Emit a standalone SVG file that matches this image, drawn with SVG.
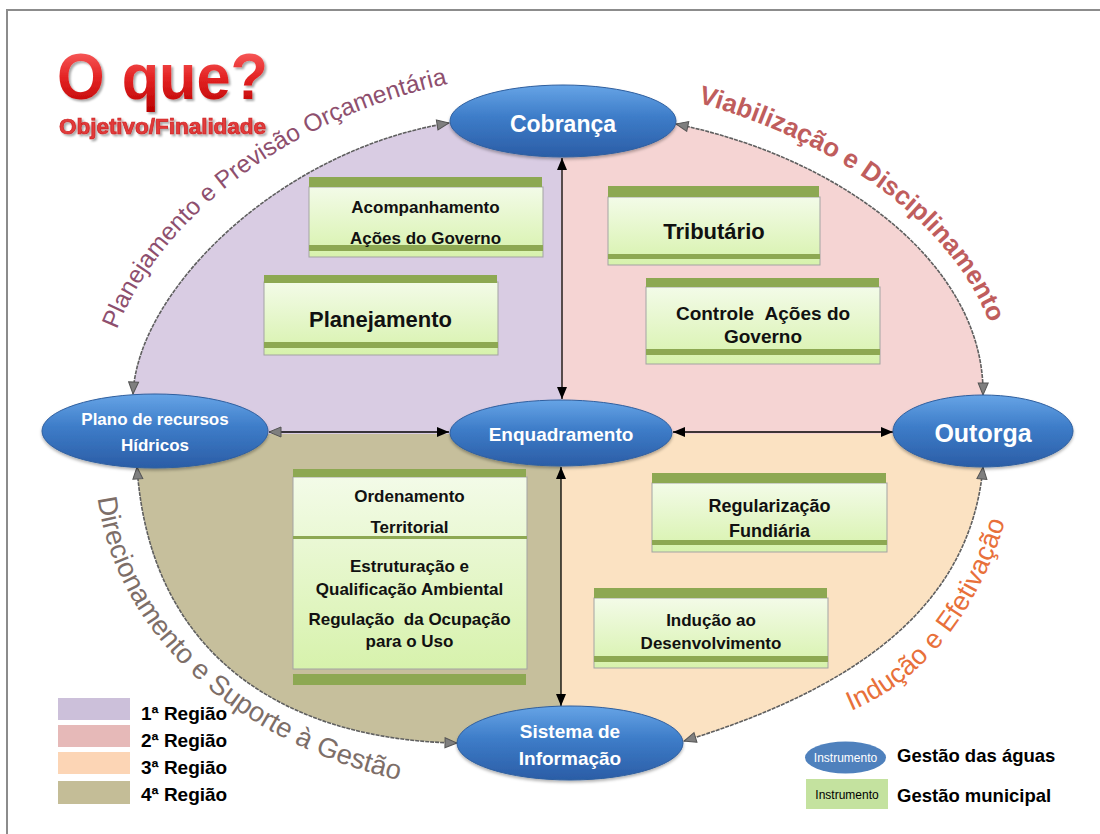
<svg xmlns="http://www.w3.org/2000/svg" width="1100" height="834" viewBox="0 0 1100 834">
<defs>
<style>
.bar{fill:#8da852}
.body{fill:url(#gb);stroke:#a3a3a3;stroke-width:1}
.bt{font-family:"Liberation Sans",Arial,sans-serif;font-weight:bold;fill:#111;text-anchor:middle}
.el{fill:url(#eb);stroke:#2f5f9f;stroke-width:1;filter:url(#sh)}
.et{font-family:"Liberation Sans",Arial,sans-serif;font-weight:bold;fill:#fff;text-anchor:middle}
.curve{fill:none;stroke:#5f5f5f;stroke-width:1.6;stroke-dasharray:4 1;marker-start:url(#ga);marker-end:url(#ga)}
.line{fill:none;stroke:#000;stroke-width:1.3}
.lg{font-family:"Liberation Sans",Arial,sans-serif;font-weight:bold;fill:#000}
.wa{font-family:"Liberation Sans",Arial,sans-serif}
</style>
<linearGradient id="gb" x1="0" y1="0" x2="0" y2="1">
<stop offset="0" stop-color="#f3fbe8"/>
<stop offset="1" stop-color="#d7f2ac"/>
</linearGradient>
<linearGradient id="eb" x1="0" y1="0" x2="0" y2="1">
<stop offset="0" stop-color="#66a4e6"/>
<stop offset="0.45" stop-color="#3d7cc8"/>
<stop offset="1" stop-color="#2b5da6"/>
</linearGradient>
<linearGradient id="red" x1="0" y1="0" x2="0" y2="1">
<stop offset="0" stop-color="#ff7070"/>
<stop offset="0.5" stop-color="#e42424"/>
<stop offset="1" stop-color="#b80000"/>
</linearGradient>
<filter id="sh" x="-10%" y="-10%" width="120%" height="130%">
<feDropShadow dx="0" dy="2" stdDeviation="1.5" flood-color="#000" flood-opacity="0.3"/>
</filter>
<filter id="tsh" x="-5%" y="-10%" width="115%" height="130%">
<feDropShadow dx="2" dy="2" stdDeviation="1.2" flood-color="#000" flood-opacity="0.35"/>
</filter>
<marker id="ah" viewBox="0 0 12 10" refX="12" refY="5" markerWidth="12" markerHeight="10" markerUnits="userSpaceOnUse" orient="auto-start-reverse">
<path d="M0,0 L12,5 L0,10 z" fill="#000"/>
</marker>
<marker id="ahg" viewBox="-1 -1 14 12" refX="12" refY="5" markerWidth="14" markerHeight="12" markerUnits="userSpaceOnUse" orient="auto-start-reverse">
<path d="M0,0 L12,5 L0,10 z" fill="#7f7f7f" stroke="#555" stroke-width="1"/>
</marker>
<marker id="ga" viewBox="-1 -1 14 12" refX="12" refY="5" markerWidth="14" markerHeight="12" markerUnits="userSpaceOnUse" orient="auto-start-reverse">
<path d="M0,0 L12,5 L0,10 z" fill="#7f7f7f" stroke="#555" stroke-width="1"/>
</marker>
<path id="tp1" d="M 106,368 C 126,255 260,115 478,78"/>
<path id="tp2" d="M 688,100 C 840,140 965,230 997,345"/>
<path id="tp3" d="M 838,716 C 913,690 983,620 1013,492"/>
<path id="tp4" d="M 96,480 C 106,640 256,760 440,788"/>
</defs>

<rect x="0" y="0" width="1100" height="834" fill="#fff"/>
<rect x="7" y="10" width="1200" height="900" fill="#fff" stroke="#8c8c8c" stroke-width="2"/>

<g id="regions">
<path d="M561,434 L133,434 L133,394 C138,290 280,150 449,123 L561,123 Z" fill="#d9cce3"/>
<path d="M561,434 L561,123 L676,124 C850,160 985,270 983,395 L983,434 Z" fill="#f5d4d3"/>
<path d="M561,434 L983,434 L983,467 C970,610 850,690 684,741 L561,741 Z" fill="#fbe2c2"/>
<path d="M561,434 L561,743 L457,743 C290,740 150,660 137,467 L137,434 Z" fill="#c6bf9c"/>
</g>

<g id="connectors">
<path class="curve" d="M 133,394 C 138,290 280,150 449,123"/>
<path class="curve" d="M 676,124 C 850,160 985,270 983,395"/>
<path class="curve" d="M 983,467 C 970,610 850,690 684,741"/>
<path class="curve" d="M 137,467 C 150,660 290,740 457,743"/>
<line class="line" x1="562" y1="158" x2="562" y2="399" marker-start="url(#ah)" marker-end="url(#ah)"/>
<line class="line" x1="561" y1="467" x2="561" y2="706" marker-start="url(#ah)" marker-end="url(#ah)"/>
<line class="line" x1="269" y1="432" x2="449" y2="432" stroke="#333" marker-start="url(#ahg)" marker-end="url(#ah)"/>
<line class="line" x1="673" y1="432" x2="893" y2="432" marker-start="url(#ah)" marker-end="url(#ah)"/>
</g>

<g id="curved-labels">
<text class="wa" font-size="24.5" fill="#8e4f6e"><textPath href="#tp1" startOffset="40">Planejamento e Previsão Orçamentária</textPath></text>
<text class="wa" font-size="26" font-weight="bold" fill="#bf5d5d"><textPath href="#tp2" startOffset="10">Viabilização e Disciplinamento</textPath></text>
<text class="wa" font-size="27" fill="#e8703a"><textPath href="#tp3" startOffset="14">Indução e Efetivação</textPath></text>
<text class="wa" font-size="27.5" fill="#7d6e68"><textPath href="#tp4" startOffset="18">Direcionamento e Suporte à Gestão</textPath></text>
</g>

<g id="box-acompanhamento">
<rect class="body" x="309" y="187" width="234" height="70"/>
<rect class="bar" x="309" y="177" width="233" height="10"/>
<rect class="bar" x="309" y="245" width="234" height="6"/>
<text class="bt" x="425.5" y="213" font-size="17">Acompanhamento</text>
<text class="bt" x="425.5" y="244" font-size="17">Ações do Governo</text>
</g>

<g id="box-planejamento">
<rect class="body" x="264" y="282" width="234" height="73"/>
<rect class="bar" x="264" y="275" width="233" height="8"/>
<rect class="bar" x="264" y="342" width="234" height="6"/>
<text class="bt" x="380.5" y="327" font-size="22">Planejamento</text>
</g>

<g id="box-tributario">
<rect class="body" x="608" y="197" width="212" height="68"/>
<rect class="bar" x="608" y="186" width="211" height="11"/>
<rect class="bar" x="608" y="254" width="212" height="5"/>
<text class="bt" x="714" y="239" font-size="22">Tributário</text>
</g>

<g id="box-controle">
<rect class="body" x="646" y="287" width="234" height="77"/>
<rect class="bar" x="646" y="278" width="233" height="9"/>
<rect class="bar" x="646" y="349" width="234" height="6"/>
<text class="bt" x="763" y="320" font-size="19">Controle &#160;Ações do</text>
<text class="bt" x="763" y="343" font-size="19">Governo</text>
</g>

<g id="box-regularizacao">
<rect class="body" x="652" y="483" width="235" height="69"/>
<rect class="bar" x="652" y="473" width="234" height="10"/>
<rect class="bar" x="652" y="540" width="235" height="5"/>
<text class="bt" x="769.5" y="512" font-size="18">Regularização</text>
<text class="bt" x="769.5" y="537" font-size="18">Fundiária</text>
</g>

<g id="box-inducao">
<rect class="body" x="594" y="598" width="234" height="70"/>
<rect class="bar" x="594" y="588" width="233" height="10"/>
<rect class="bar" x="594" y="656" width="234" height="6"/>
<text class="bt" x="711" y="626" font-size="17">Indução ao</text>
<text class="bt" x="711" y="649" font-size="17">Desenvolvimento</text>
</g>

<g id="box-ordenamento">
<rect class="body" x="293" y="477" width="234" height="192"/>
<rect class="bar" x="293" y="469" width="233" height="8"/>
<rect class="bar" x="293" y="536" width="234" height="3"/>
<rect class="bar" x="293" y="674" width="233" height="11"/>
<text class="bt" x="409.5" y="502" font-size="17">Ordenamento</text>
<text class="bt" x="409.5" y="533" font-size="17">Territorial</text>
<text class="bt" x="409.5" y="572" font-size="17">Estruturação e</text>
<text class="bt" x="409.5" y="595" font-size="17">Qualificação Ambiental</text>
<text class="bt" x="409.5" y="625" font-size="17">Regulação &#160;da Ocupação</text>
<text class="bt" x="409.5" y="647" font-size="17">para o Uso</text>
</g>

<g id="node-cobranca">
<ellipse class="el" cx="563" cy="121" rx="113" ry="36"/>
<text class="et" x="563" y="132" font-size="23">Cobrança</text>
</g>
<g id="node-enquadramento">
<ellipse class="el" cx="561" cy="433" rx="111" ry="33"/>
<text class="et" x="561" y="441" font-size="19">Enquadramento</text>
</g>
<g id="node-plano">
<ellipse class="el" cx="155" cy="431" rx="113" ry="37"/>
<text class="et" x="155" y="425" font-size="17">Plano de recursos</text>
<text class="et" x="155" y="451" font-size="17">Hídricos</text>
</g>
<g id="node-outorga">
<ellipse class="el" cx="983" cy="431" rx="90" ry="36"/>
<text class="et" x="983" y="442" font-size="25">Outorga</text>
</g>
<g id="node-sistema">
<ellipse class="el" cx="570" cy="743" rx="113" ry="37"/>
<text class="et" x="570" y="738" font-size="19">Sistema de</text>
<text class="et" x="570" y="765" font-size="19">Informação</text>
</g>

<g id="title">
<text x="57" y="99" font-family="'Liberation Sans',Arial,sans-serif" font-weight="bold" font-size="64" textLength="211" lengthAdjust="spacingAndGlyphs" fill="url(#red)" filter="url(#tsh)">O que?</text>
<text x="59" y="134" font-family="'Liberation Sans',Arial,sans-serif" font-weight="bold" font-size="22" textLength="207" lengthAdjust="spacingAndGlyphs" fill="#e23a3a" stroke="#cc2222" stroke-width="0.7" filter="url(#tsh)">Objetivo/Finalidade</text>
</g>

<g id="legend-regions">
<rect x="58" y="698" width="72" height="22" fill="#ccc0da"/>
<rect x="58" y="725" width="72" height="22" fill="#e6b9b8"/>
<rect x="58" y="752" width="72" height="22" fill="#fcd5b5"/>
<rect x="58" y="781" width="72" height="23" fill="#c4bd97"/>
<text class="lg" x="141" y="720" font-size="19">1ª Região</text>
<text class="lg" x="141" y="747" font-size="19">2ª Região</text>
<text class="lg" x="141" y="774" font-size="19">3ª Região</text>
<text class="lg" x="141" y="801" font-size="19">4ª Região</text>
</g>

<g id="legend-instruments">
<ellipse cx="845.5" cy="757.5" rx="40.5" ry="16" fill="#4f81bd"/>
<text x="845.5" y="762" font-family="'Liberation Sans',Arial,sans-serif" font-size="12" fill="#fff" text-anchor="middle">Instrumento</text>
<rect x="806" y="779" width="82" height="30" fill="#c4e29f"/>
<text x="847" y="799" font-family="'Liberation Sans',Arial,sans-serif" font-size="12" fill="#000" text-anchor="middle">Instrumento</text>
<text class="lg" x="897" y="762" font-size="18.5">Gestão das águas</text>
<text class="lg" x="897" y="802" font-size="18.5">Gestão municipal</text>
</g>
</svg>
